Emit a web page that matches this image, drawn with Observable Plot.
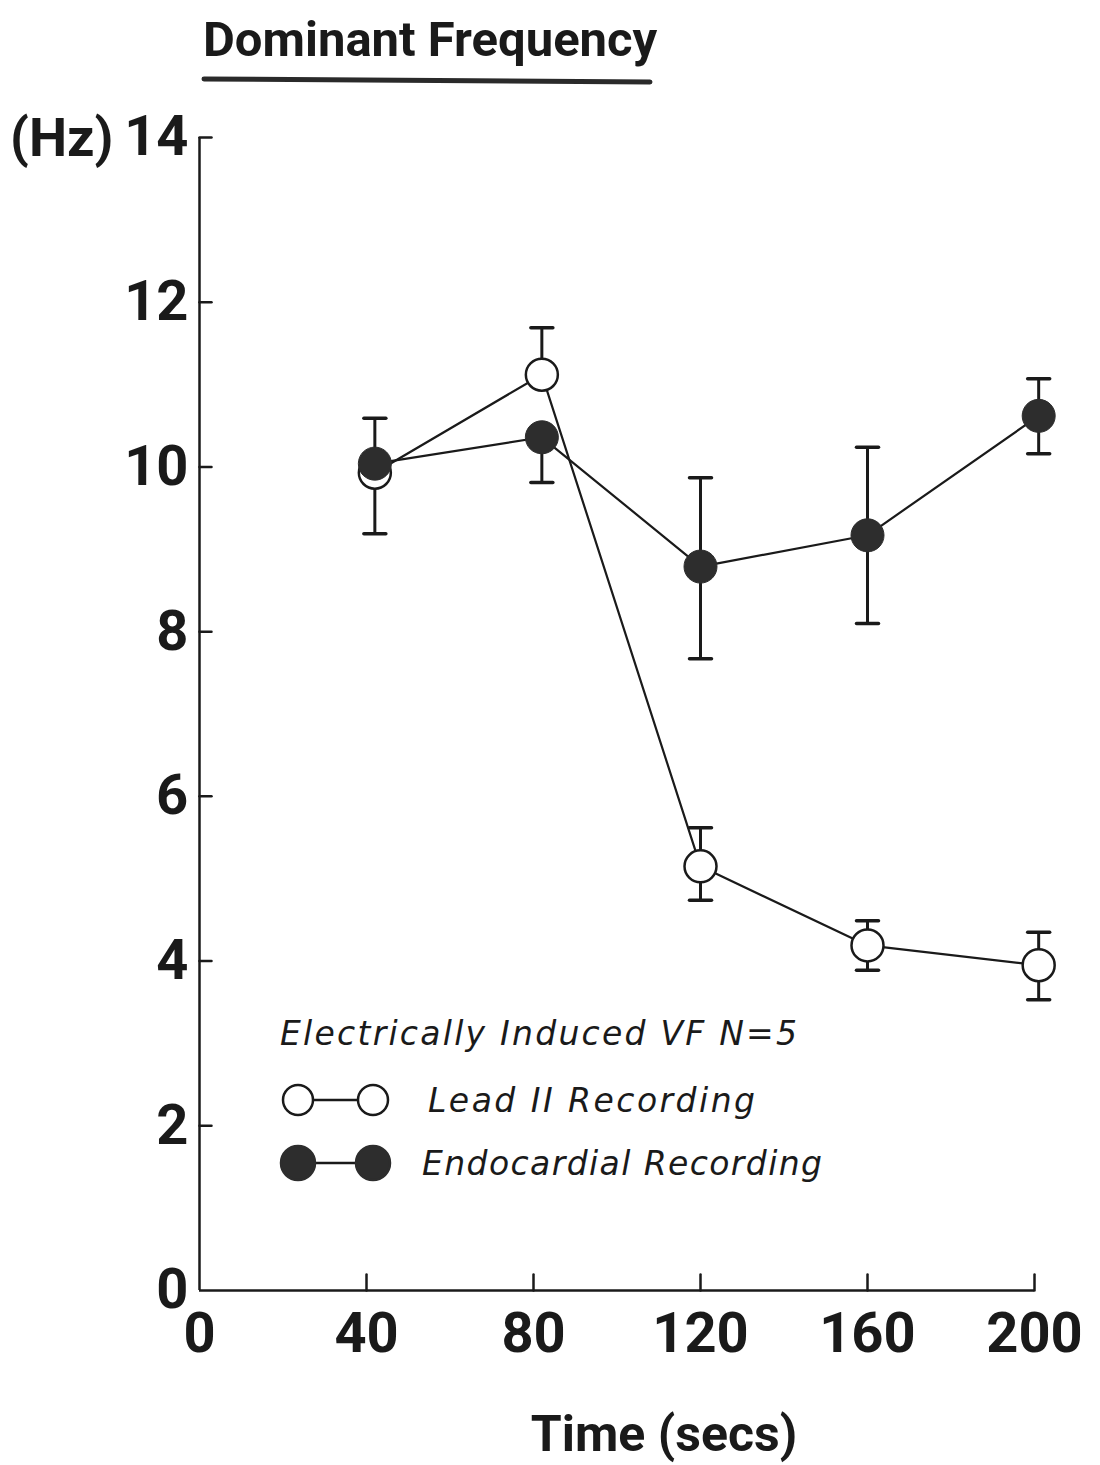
<!DOCTYPE html>
<html><head><meta charset="utf-8">
<script src="https://cdn.jsdelivr.net/npm/d3@7"></script>
<script src="https://cdn.jsdelivr.net/npm/@observablehq/plot@0.6"></script>
<style>
body{margin:0;background:#fff;}
#wrap{position:relative;width:1100px;height:1465px;overflow:hidden;background:#fff;}
#chart{position:absolute;left:0;top:100px;}
#overlay{position:absolute;left:0;top:0;}
.b{font-family:Roboto,sans-serif;font-weight:bold;fill:#1a1a1a;}
.i{font-family:"DejaVu Sans",sans-serif;font-style:italic;fill:#1a1a1a;}
</style></head><body>
<div id="wrap"><div id="chart"></div><svg id="overlay" width="1100" height="1465"></svg></div>
<script>
// Data
const times = [42, 82, 120, 160, 201];
const leadMean = [9.93, 11.12, 5.15, 4.19, 3.95];
const leadHi   = [null, 11.69, 5.62, 4.49, 4.35];
const leadLo   = [9.19, null, 4.74, 3.89, 3.53];
const endoMean = [10.04, 10.36, 8.79, 9.17, 10.62];
const endoHi   = [10.59, null, 9.87, 10.24, 11.07];
const endoLo   = [null, 9.81, 7.67, 8.10, 10.16];
const xTicks = [0, 40, 80, 120, 160, 200];
const yTicks = [0, 2, 4, 6, 8, 10, 12, 14];
const titleText = "Dominant Frequency";
const yUnit = "(Hz)";
const xLabel = "Time (secs)";
const legendTitle = "Electrically Induced VF N=5";
const seriesNames = ["Lead II Recording", "Endocardial Recording"];

const ink = "#1a1a1a", dark = "#2d2d2d";
const lead = times.map((t, i) => ({series: seriesNames[0], t, mean: leadMean[i], hi: leadHi[i], lo: leadLo[i]}));
const endo = times.map((t, i) => ({series: seriesNames[1], t, mean: endoMean[i], hi: endoHi[i], lo: endoLo[i]}));
const rows = lead.concat(endo);
const withHi = rows.filter(r => r.hi != null), withLo = rows.filter(r => r.lo != null);

// plain straight segment shape for vector marks (ticks and caps)
const stick = {draw(context, l) { context.moveTo(0, 0); context.lineTo(0, -l); }};

const plot = Plot.plot({
  width: 1100, height: 1365,
  marginLeft: 199, marginRight: 66, marginTop: 37, marginBottom: 175,
  x: {domain: [0, 200]},
  y: {domain: [0, 14]},
  style: {fontFamily: "Roboto, sans-serif", fontWeight: "bold", color: ink, background: "white", overflow: "visible"},
  marks: [
    Plot.ruleY([0], {stroke: ink, strokeWidth: 2.5}),
    Plot.ruleX([0], {stroke: ink, strokeWidth: 2.5}),
    Plot.vector(xTicks.filter(d => d > 0), {x: d => d, y: 0, length: 16, rotate: 0, anchor: "start", shape: stick, stroke: ink, strokeWidth: 2.5}),
    Plot.vector(yTicks.filter(d => d > 0), {x: 0, y: d => d, length: 12, rotate: 90, anchor: "start", shape: stick, stroke: ink, strokeWidth: 2.5}),
    Plot.axisX({ticks: xTicks, tickSize: 0, tickPadding: 22, fontSize: 56, label: null}),
    Plot.axisY({ticks: yTicks, tickSize: 0, tickPadding: 11, fontSize: 56, label: null}),
    Plot.text([xLabel], {frameAnchor: "bottom", dx: 47, dy: 160, lineAnchor: "bottom", fontSize: 50, fontWeight: "bold", fill: ink}),
    Plot.line(lead, {x: "t", y: "mean", stroke: ink, strokeWidth: 2.2}),
    Plot.line(endo, {x: "t", y: "mean", stroke: ink, strokeWidth: 2.2}),
    Plot.ruleX(withHi, {x: "t", y1: "mean", y2: "hi", stroke: ink, strokeWidth: 3}),
    Plot.ruleX(withLo, {x: "t", y1: "mean", y2: "lo", stroke: ink, strokeWidth: 3}),
    Plot.vector(withHi, {x: "t", y: "hi", length: 22, rotate: 90, anchor: "middle", shape: stick, stroke: ink, strokeWidth: 3.5}),
    Plot.vector(withLo, {x: "t", y: "lo", length: 22, rotate: 90, anchor: "middle", shape: stick, stroke: ink, strokeWidth: 3.5}),
    Plot.dot(lead, {x: "t", y: "mean", r: 16, fill: "white", stroke: ink, strokeWidth: 2.5}),
    Plot.dot(endo, {x: "t", y: "mean", r: 16.5, fill: dark, stroke: dark, strokeWidth: 1})
  ]
});
document.getElementById("chart").appendChild(plot);

// Title, unit and legend overlay
const ov = d3.select("#overlay");
ov.append("text").attr("class", "b").attr("x", 203).attr("y", 56).attr("font-size", 49).text(titleText);
ov.append("line").attr("x1", 204).attr("y1", 79).attr("x2", 650).attr("y2", 82)
  .attr("stroke", "#2a2a2a").attr("stroke-width", 5).attr("stroke-linecap", "round");
ov.append("text").attr("class", "b").attr("x", 10).attr("y", 156).attr("font-size", 54).text(yUnit);

ov.append("text").attr("class", "i").attr("x", 280).attr("y", 1045).attr("font-size", 33)
  .attr("textLength", 517).attr("lengthAdjust", "spacing").text(legendTitle);
const legendRows = [
  {name: seriesNames[0], y: 1100, fill: "white", tx: 428, tw: 327},
  {name: seriesNames[1], y: 1163, fill: dark, tx: 422, tw: 400}
];
legendRows.forEach(r => {
  ov.append("line").attr("x1", 298).attr("x2", 373).attr("y1", r.y).attr("y2", r.y).attr("stroke", ink).attr("stroke-width", 2.5);
  [298, 373].forEach(cx => ov.append("circle").attr("cx", cx).attr("cy", r.y).attr("r", r.fill === "white" ? 15 : 17)
    .attr("fill", r.fill).attr("stroke", r.fill === "white" ? ink : dark).attr("stroke-width", 2.5));
  ov.append("text").attr("class", "i").attr("x", r.tx).attr("y", r.y + 12).attr("font-size", 33)
    .attr("textLength", r.tw).attr("lengthAdjust", "spacing").text(r.name);
});
</script>
</body></html>
